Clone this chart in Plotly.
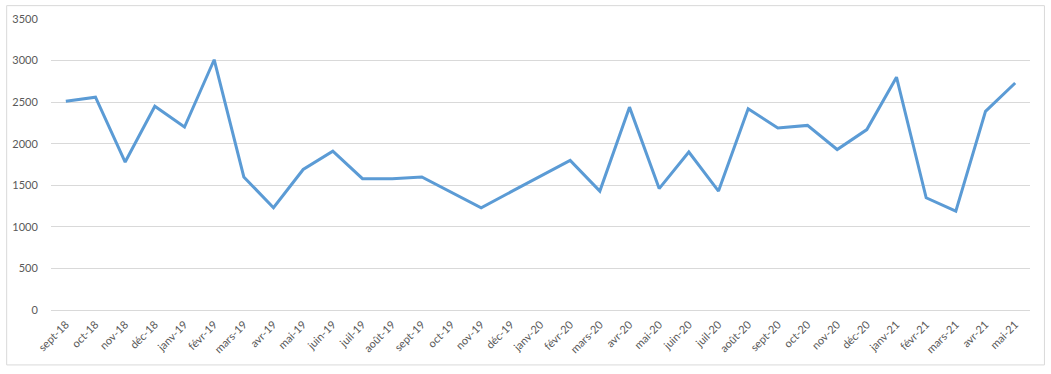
import plotly.graph_objects as go

months = ["sept-18", "oct-18", "nov-18", "déc-18", "janv-19", "févr-19", "mars-19", "avr-19",
          "mai-19", "juin-19", "juil-19", "août-19", "sept-19", "oct-19", "nov-19", "déc-19",
          "janv-20", "févr-20", "mars-20", "avr-20", "mai-20", "juin-20", "juil-20", "août-20",
          "sept-20", "oct-20", "nov-20", "déc-20", "janv-21", "févr-21", "mars-21", "avr-21", "mai-21"]
values = [2510, 2560, 1780, 2450, 2200, 3010, 1600, 1230,
          1690, 1910, 1580, 1580, 1600, 1420, 1230, 1420,
          1610, 1800, 1430, 2440, 1460, 1900, 1430, 2420,
          2190, 2220, 1930, 2170, 2800, 1350, 1190, 2390, 2730]
y_ticks = [0, 500, 1000, 1500, 2000, 2500, 3000, 3500]

W, H = 1051, 374
ml, mr, mt, mb = 47, 21, 16, 64

fig = go.Figure()
fig.add_trace(go.Scatter(
    x=list(range(len(months))), y=values, mode="lines",
    line=dict(color="#5B9BD5", width=3),
    hoverinfo="skip",
))

pw = W - ml - mr
ph = H - mt - mb
fig.add_shape(type="rect", xref="paper", yref="paper",
              x0=(2.5 - ml) / pw, x1=(1044.5 - ml) / pw,
              y0=(H - mb - 365.5) / ph, y1=(H - mb - 2.5) / ph,
              line=dict(color="#D9D9D9", width=1), fillcolor="rgba(0,0,0,0)", layer="below")

fig.update_layout(
    width=W, height=H,
    margin=dict(l=ml, r=mr, t=mt, b=mb),
    paper_bgcolor="white", plot_bgcolor="white",
    showlegend=False,
    font=dict(family="Lato, 'Open Sans', sans-serif", size=11, color="#595959"),
    xaxis=dict(
        tickmode="array", tickvals=list(range(len(months))), ticktext=months,
        range=[-0.5, len(months) - 0.5], tickangle=-45,
        showgrid=False, zeroline=False, showline=False,
        ticks="outside", ticklen=3, tickcolor="rgba(0,0,0,0)",
        tickfont=dict(size=11, color="#595959"),
    ),
    yaxis=dict(
        range=[0, 3500], tickvals=y_ticks,
        showgrid=True, gridcolor="#D9D9D9", gridwidth=1,
        zeroline=True, zerolinecolor="#D9D9D9", zerolinewidth=1,
        showline=False, ticks="outside", ticklen=10, tickcolor="rgba(0,0,0,0)",
        tickfont=dict(size=11, color="#595959"),
    ),
)

fig.write_html("out.html")
